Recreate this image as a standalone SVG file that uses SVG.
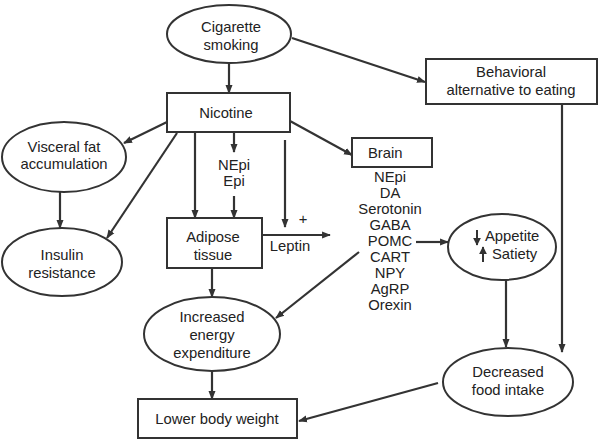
<svg xmlns="http://www.w3.org/2000/svg" width="600" height="441" viewBox="0 0 600 441">
<defs>
<marker id="ah" viewBox="0 0 10 10" refX="9" refY="5" markerWidth="4" markerHeight="4" orient="auto" markerUnits="strokeWidth">
<path d="M0,1 L10,5 L0,9 z" fill="#333"/>
</marker>
<marker id="sm" viewBox="0 0 10 10" refX="9" refY="5" markerWidth="4" markerHeight="4" orient="auto" markerUnits="strokeWidth">
<path d="M0,0 L10,5 L0,10 z" fill="#333"/>
</marker>
</defs>
<style>
.n{fill:#fff;stroke:#333;stroke-width:2}
.t{font-family:"Liberation Sans",Arial,sans-serif;font-size:14.8px;fill:#222;text-anchor:middle}
.c{fill:none;stroke:#333;stroke-width:2.2;marker-end:url(#ah)}
</style>
<rect width="600" height="441" fill="#fff"/>
<g id="connectors">
<line class="c" x1="229" y1="63" x2="229" y2="93"/>
<line class="c" x1="292" y1="38" x2="425" y2="82"/>
<line class="c" x1="167" y1="122" x2="124" y2="143"/>
<line class="c" x1="60" y1="192" x2="60" y2="228"/>
<line class="c" x1="177" y1="133" x2="107" y2="238"/>
<line class="c" x1="195" y1="132" x2="195" y2="218"/>
<line class="c" x1="234" y1="132" x2="234" y2="152"/>
<line class="c" x1="234" y1="196" x2="234" y2="218"/>
<line class="c" x1="285" y1="140" x2="285" y2="227"/>
<line class="c" x1="290" y1="121" x2="352" y2="155"/>
<line class="c" x1="262" y1="235" x2="330" y2="235"/>
<line class="c" x1="562" y1="104" x2="562" y2="352"/>
<line class="c" x1="416" y1="242" x2="448" y2="242"/>
<line class="c" x1="506" y1="280" x2="506" y2="347"/>
<line class="c" x1="438" y1="383" x2="299" y2="421"/>
<line class="c" x1="359" y1="252" x2="276" y2="318"/>
<line class="c" x1="212" y1="268" x2="212" y2="297"/>
<line class="c" x1="212" y1="371" x2="212" y2="399"/>
</g>
<g id="cigarette">
<ellipse class="n" cx="229" cy="34" rx="62" ry="29"/>
<text class="t" x="231" y="32">Cigarette</text>
<text class="t" x="231" y="50">smoking</text>
</g>
<g id="nicotine">
<rect class="n" x="167" y="93" width="123" height="39"/>
<text class="t" x="226" y="118">Nicotine</text>
</g>
<g id="behavioral">
<rect class="n" x="426" y="59" width="171" height="45"/>
<text class="t" x="511" y="77">Behavioral</text>
<text class="t" x="511" y="95">alternative to eating</text>
</g>
<g id="visceral">
<ellipse class="n" cx="64" cy="157" rx="62" ry="35"/>
<text class="t" x="64" y="152">Visceral fat</text>
<text class="t" x="64" y="169">accumulation</text>
</g>
<g id="insulin">
<ellipse class="n" cx="62" cy="262" rx="60" ry="34"/>
<text class="t" x="62" y="260">Insulin</text>
<text class="t" x="62" y="278">resistance</text>
</g>
<g id="nepi-epi">
<text class="t" x="234" y="170">NEpi</text>
<text class="t" x="234" y="186">Epi</text>
</g>
<g id="adipose">
<rect class="n" x="167" y="218" width="95" height="50"/>
<text class="t" x="213" y="242">Adipose</text>
<text class="t" x="213" y="260">tissue</text>
</g>
<g id="leptin">
<text class="t" x="303" y="224">+</text>
<text class="t" x="290" y="251">Leptin</text>
</g>
<g id="brain">
<rect class="n" x="352" y="138" width="80" height="29"/>
<text class="t" x="368" y="158" style="text-anchor:start">Brain</text>
</g>
<g id="brain-list">
<text class="t" x="390" y="182">NEpi</text>
<text class="t" x="390" y="198">DA</text>
<text class="t" x="390" y="214">Serotonin</text>
<text class="t" x="390" y="230">GABA</text>
<text class="t" x="390" y="246">POMC</text>
<text class="t" x="390" y="262">CART</text>
<text class="t" x="390" y="278">NPY</text>
<text class="t" x="390" y="294">AgRP</text>
<text class="t" x="390" y="310">Orexin</text>
</g>
<g id="appetite">
<ellipse class="n" cx="502" cy="247" rx="54" ry="33"/>
<line x1="477" y1="230" x2="477" y2="245" stroke="#333" stroke-width="2" marker-end="url(#sm)"/>
<line x1="483" y1="262" x2="483" y2="247" stroke="#333" stroke-width="2" marker-end="url(#sm)"/>
<text class="t" x="485" y="241" style="text-anchor:start">Appetite</text>
<text class="t" x="492" y="259" style="text-anchor:start">Satiety</text>
</g>
<g id="decreased">
<ellipse class="n" cx="508" cy="382" rx="65" ry="34"/>
<text class="t" x="508" y="377">Decreased</text>
<text class="t" x="508" y="395">food intake</text>
</g>
<g id="energy">
<ellipse class="n" cx="212" cy="334" rx="68" ry="37"/>
<text class="t" x="212" y="322">Increased</text>
<text class="t" x="212" y="340">energy</text>
<text class="t" x="212" y="358">expenditure</text>
</g>
<g id="lower">
<rect class="n" x="138" y="399" width="159" height="39"/>
<text class="t" x="217" y="424">Lower body weight</text>
</g>
</svg>
